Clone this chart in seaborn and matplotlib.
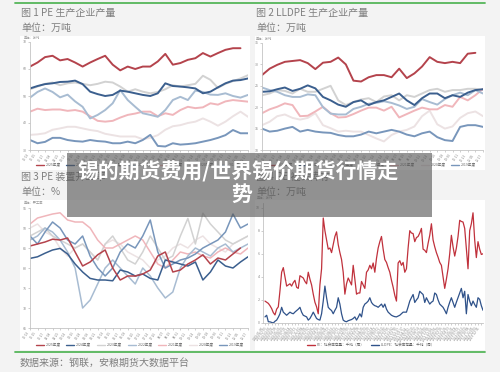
import numpy as np
import pandas as pd
import matplotlib
matplotlib.use("Agg")
import matplotlib.pyplot as plt
import seaborn as sns
from matplotlib.patches import Rectangle
from matplotlib.lines import Line2D

sns.set_theme(style="white")
plt.rcParams['font.family'] = ['Noto Sans CJK SC', 'DejaVu Sans']

# ---------------- data ----------------
YEARS = ["2025年度", "2024年度", "2023年度", "2022年度", "2021年度", "2020年度", "2019年度"]

# Fig 1: PE production (万吨)
p1_2025 = [60.9,62.4,64.4,64.9,63.2,63.7,62.4,60.9,62.4,63.7,64.9,61.6,59.5,60.9,60.0,60.9,60.9,62.8,65.6,61.6,62.2,63.4,64.0,65.9,64.6,65.9,67.1,67.7,67.7]
p1_2024 = [52.8,53.7,54.4,54.7,55.2,55.3,55.7,54.4,51.6,50.7,50.0,50.4,52.0,51.6,51.0,50.4,50.0,51.0,54.7,53.7,53.5,53.2,52.8,51.0,51.6,53.2,54.7,55.7,55.9,56.5]
p1_2023 = [52.5,53.5,54.5,55.0,54.0,54.7,55.0,54.5,54.0,54.5,55.3,55.0,53.5,51.6,52.5,51.6,51.0,51.5,52.5,54.0,53.5,54.0,54.5,57.5,56.0,53.0,54.5,55.5,56.5,57.7]
p1_2022 = [49.4,51.5,52.8,51.5,49.5,50.5,48.0,46.0,41.7,43.0,44.8,47.3,52.2,48.5,46.0,43.6,43.0,42.3,44.8,48.5,49.7,48.5,52.0,51.5,50.5,50.4,51.0,50.0,49.4,50.4]
p1_2021 = [44.2,45.3,44.8,45.0,45.0,44.5,44.8,44.2,42.5,40.8,40.5,40.8,42.0,43.0,43.5,44.2,44.2,42.5,43.6,43.0,44.8,46.0,45.5,45.8,47.3,46.8,48.0,48.5,48.2,47.9]
p1_2020 = [35.6,35.8,36.2,37.5,38.0,38.6,38.6,38.0,37.4,37.0,36.0,35.5,35.0,35.0,35.0,34.0,34.5,35.5,37.5,38.8,39.2,40.0,40.5,41.7,40.5,39.0,40.5,42.5,44.2,42.3]
p1_2019 = [33.7,32.5,33.0,34.5,34.5,33.7,33.3,33.1,33.7,33.3,33.1,32.5,32.5,33.1,32.5,33.7,35.6,31.5,31.3,32.5,32.0,32.2,32.5,33.1,33.7,34.5,35.5,37.4,36.2,36.2]

# Fig 2: LLDPE production (万吨)
p2_2025 = [27.5,29.0,29.9,30.6,30.8,31.0,30.3,28.9,30.4,30.6,31.6,30.0,26.2,26.0,27.0,27.5,27.5,27.0,29.0,26.8,27.9,29.5,31.7,30.6,30.3,30.6,30.3,32.5,32.7]
p2_2024 = [23.6,23.7,24.2,24.6,23.8,24.3,25.1,24.4,22.4,21.6,20.6,20.1,21.2,21.6,20.5,21.2,21.6,22.4,23.2,21.6,20.5,22.1,23.2,23.2,22.1,22.8,22.4,23.4,24.0,24.2]
p2_2023 = [22.8,23.2,24.0,23.8,23.2,24.3,23.6,23.6,24.3,25.0,21.6,20.5,21.2,21.8,22.1,21.2,22.5,22.8,21.6,22.8,22.4,23.2,24.0,24.3,23.6,24.0,24.0,24.3,24.3,24.0]
p2_2022 = [24.6,24.0,23.6,22.8,22.4,22.4,23.0,22.8,20.0,18.5,18.3,18.3,19.6,20.1,20.8,21.0,21.4,21.0,20.4,19.6,20.1,21.9,21.2,20.6,21.9,22.8,23.4,22.8,24.0,23.2]
p2_2021 = [18.6,19.5,20.1,20.9,20.5,17.9,18.0,19.0,20.1,18.6,17.6,17.7,18.4,19.2,19.9,19.9,19.2,20.1,17.6,18.4,19.2,19.9,19.5,19.5,20.5,20.1,22.4,21.6,22.8,24.3]
p2_2020 = [15.8,16.6,17.9,18.3,17.5,17.1,17.5,18.6,15.8,15.1,14.3,14.5,14.3,14.3,13.5,12.7,12.0,13.5,14.3,14.7,15.5,17.9,19.2,16.0,15.0,15.5,17.5,18.6,19.0,17.9]
p2_2019 = [15.0,14.3,14.5,15.0,15.4,14.3,14.7,14.3,14.1,14.0,13.5,13.2,13.2,13.6,14.3,13.9,14.3,14.7,14.3,13.6,13.2,13.9,14.3,13.0,12.3,12.1,15.4,15.8,15.8,15.4]

# Fig 3: PE operating rate (%)
p3_2025 = [85.5,86.0,86.5,87.2,87.0,87.5,84.0,80.5,81.5,83.3,84.5,80.0,77.0,78.0,78.0,78.5,79.5,83.0,84.0,79.0,79.5,81.0,82.0,83.3,81.0,82.5,82.0,83.5,85.0]
p3_2024 = [82.4,82.8,83.7,84.5,84.9,83.5,81.0,79.0,77.4,77.0,77.0,76.8,79.5,79.0,78.0,78.5,77.4,77.0,82.0,81.5,81.0,80.5,81.5,77.0,79.0,82.0,80.5,80.0,81.5,82.8]
p3_2023 = [88.0,89.0,90.0,88.0,87.0,86.0,85.0,86.0,84.0,82.0,86.0,88.0,85.0,82.0,81.0,84.0,88.0,85.0,82.0,83.0,88.0,92.4,86.0,93.7,91.0,89.0,87.0,86.0,87.0,88.0]
p3_2022 = [87.0,88.0,90.0,89.0,87.0,84.0,80.0,70.0,72.0,76.0,80.0,82.0,80.0,78.0,76.0,80.0,78.0,75.0,72.5,74.0,80.0,83.0,85.0,84.0,83.0,85.0,86.0,84.0,85.0,86.0]
p3_2021 = [91.0,92.5,93.0,93.5,93.8,92.0,91.5,91.5,90.0,87.0,85.0,85.0,86.0,87.0,88.0,87.0,84.0,81.0,80.0,82.0,84.0,83.5,84.0,83.0,82.5,84.0,85.0,84.0,83.5,85.0]
p3_2020 = [90.0,91.0,89.0,88.0,85.0,83.0,85.0,86.0,84.0,82.0,86.0,87.0,86.0,84.0,83.0,82.0,80.0,82.0,83.0,85.0,86.0,85.0,87.0,88.0,86.0,85.0,84.0,86.0,87.0,88.0]
p3_2019 = [88.0,86.0,89.0,91.5,90.0,87.0,86.0,88.0,83.0,80.0,78.0,80.0,84.0,86.0,85.0,88.0,92.0,84.0,80.0,81.0,82.0,82.5,83.5,85.0,86.0,87.0,89.0,93.5,90.0,91.0]

# Fig 4: social inventory (万吨)
p4_pe = [1.9,1.8,1.7,1.5,1.25,0.9,0.7,1.2,1.4,2.8,4.4,4.8,4.0,3.2,3.3,3.4,3.2,3.5,3.7,3.1,
         3.0,4.1,4.0,3.9,3.6,3.4,4.4,3.8,3.3,2.5,1.8,1.4,0.8,3.3,4.7,9.1,8.0,7.2,6.4,6.5,
         6.1,6.8,7.5,7.9,6.8,6.1,5.5,4.4,2.5,3.4,3.9,3.6,3.3,5.0,3.8,2.5,2.6,2.6,3.6,3.3,
         3.0,4.4,4.6,5.0,4.7,5.2,4.4,5.6,6.5,7.05,7.5,6.4,5.5,5.25,4.8,4.4,3.7,3.1,2.4,1.9,
         5.2,5.4,5.0,5.25,4.4,4.7,6.5,8.0,7.8,7.75,7.05,7.4,7.5,7.8,8.2,6.4,6.3,6.1,6.9,7.6,
         8.6,7.2,6.6,6.1,5.7,5.25,5.0,4.0,3.0,3.8,4.7,6.0,7.6,6.6,5.8,6.5,7.5,8.9,8.8,8.75,
         8.2,6.4,4.7,8.0,8.6,9.55,7.2,5.67,7.05,6.4,5.94,6.0]
p4_lldpe = [0.53,0.67,0.11,0.1,0.05,0.0,0.15,0.25,0.5,0.8,1.36,0.94,0.8,0.67,0.8,0.94,0.85,0.8,0.95,1.08,
            1.2,1.36,0.94,0.67,0.6,0.53,0.25,0.39,0.65,0.94,0.67,0.39,0.3,0.25,0.8,1.9,3.2,2.19,1.36,1.2,
            1.08,0.8,1.1,1.36,2.19,1.64,0.8,0.25,0.15,0.11,0.2,0.25,0.3,0.39,0.53,0.25,0.5,0.8,0.53,1.36,
            1.64,1.75,1.9,2.19,1.78,1.6,1.5,1.45,1.36,1.5,1.64,1.36,1.64,1.2,0.94,0.8,0.67,0.6,0.55,0.53,
            0.6,0.67,0.8,0.94,0.94,0.94,1.4,1.9,2.2,2.47,1.78,2.0,2.19,2.75,2.6,2.47,1.78,2.19,1.9,1.64,
            1.8,1.9,2.6,2.47,2.0,1.64,1.5,1.36,1.1,0.8,1.36,1.8,2.19,1.78,1.36,1.8,2.19,2.6,3.0,2.19,
            2.75,0.8,2.47,1.9,1.5,1.9,1.6,1.36,2.19,2.05,1.5,1.1]
P4_NAMES = ["PE：社会库存量：千吨（周）", "LLDPE：社会库存量：千吨（周）"]

P1_YT = [30, 40, 50, 60, 70]
P2_YT = [10, 15, 20, 25, 30, 35]
P3_YT = [65, 70, 75, 80, 85, 90, 95]
P4_YT = [0, 2, 4, 6, 8, 10]

WEEK_LABELS = list(pd.date_range("2025-01-03", periods=30, freq="12D").strftime("%m-%d"))
DATE_LABELS = list(pd.date_range("2019-01-04", periods=66, freq="4W").strftime("%Y-%m-%d"))

COLORS = {"2025年度": "#b4434c", "2024年度": "#3b5f8e", "2023年度": "#d2d2d2",
          "2022年度": "#a8bcd2", "2021年度": "#f0b6bb", "2020年度": "#ece2e3",
          "2019年度": "#7896bb"}
DRAW_ORDER = ["2020年度", "2023年度", "2021年度", "2022年度", "2019年度", "2024年度", "2025年度"]

W, H = 500, 372
fig = plt.figure(figsize=(5, 3.72), dpi=100, facecolor="#f3f3f3")


def rect(x0, y0, x1, y1):
    return [x0 / W, 1 - y1 / H, (x1 - x0) / W, (y1 - y0) / H]


def fig_rect(x0, y0, x1, y1, **kw):
    r = rect(x0, y0, x1, y1)
    fig.add_artist(Rectangle((r[0], r[1]), r[2], r[3], transform=fig.transFigure, **kw))


def fig_hline(x0, x1, y, **kw):
    fig.add_artist(Line2D([x0 / W, x1 / W], [1 - y / H] * 2, transform=fig.transFigure, **kw))


# white panels
for box in [(20, 36, 250, 170), (255, 36, 485, 170), (20, 200, 250, 350), (255, 200, 485, 350)]:
    fig_rect(*box, facecolor="white", edgecolor="none", zorder=-5)
fig_hline(15, 485, 3, color="#55b55a", lw=1.3, zorder=-4)
fig_hline(15, 485, 352, color="#55b55a", lw=1.3, zorder=-4)


def long_df(series):
    rows = []
    for name, vals in series.items():
        for i, v in enumerate(vals):
            rows.append((name, i, v))
    return pd.DataFrame(rows, columns=["year", "idx", "val"])


def style(ax, yticks, ylim, xlim, xpos, xlabels, unit):
    ax.set_facecolor("none")
    for s in ["top", "right"]:
        ax.spines[s].set_visible(False)
    for s in ["left", "bottom"]:
        ax.spines[s].set_color("#c4c4c4")
        ax.spines[s].set_linewidth(0.6)
    ax.set_ylim(*ylim)
    ax.set_xlim(*xlim)
    ax.set_yticks(yticks)
    ax.set_yticklabels([str(t) for t in yticks], fontsize=2.6, color="#888888")
    ax.set_xticks(xpos)
    ax.set_xticklabels(xlabels, rotation=55, ha="right", fontsize=2.3, color="#888888")
    ax.tick_params(axis="both", length=1.2, width=0.4, pad=1, colors="#aaaaaa",
                   labelcolor="#888888", left=True, bottom=True)
    ax.set_xlabel("")
    ax.set_ylabel("")
    ax.text(-0.03, 1.03, unit, transform=ax.transAxes, fontsize=2.3, color="#999999")


def year_panel(box, series, yticks, ylim, lw, unit):
    ax = fig.add_axes(rect(*box))
    df = long_df(series)
    sns.lineplot(data=df, x="idx", y="val", hue="year", hue_order=DRAW_ORDER,
                 palette=COLORS, linewidth=lw, legend=False, ax=ax)
    style(ax, yticks, ylim, (0, 29), list(range(30)), WEEK_LABELS, unit)
    return ax


def year_legend(cx, cy):
    handles = [Line2D([0], [0], color=COLORS[y], lw=1.0) for y in YEARS]
    fig.legend(handles, YEARS, loc="center", bbox_to_anchor=(cx / W, 1 - cy / H),
               ncol=7, frameon=False, fontsize=2.6, handlelength=2.2, columnspacing=1.6,
               handletextpad=0.5, labelcolor="#666666")


s1 = dict(zip(YEARS, [p1_2025, p1_2024, p1_2023, p1_2022, p1_2021, p1_2020, p1_2019]))
s2 = dict(zip(YEARS, [p2_2025, p2_2024, p2_2023, p2_2022, p2_2021, p2_2020, p2_2019]))
s3 = dict(zip(YEARS, [p3_2025, p3_2024, p3_2023, p3_2022, p3_2021, p3_2020, p3_2019]))

year_panel((30, 42, 248, 150), s1, P1_YT, (30, 70), 1.4, "单位：万吨")
year_panel((262, 43, 483, 150), s2, P2_YT, (10, 35), 1.4, "单位：万吨")
year_panel((30, 208, 248, 328), s3, P3_YT, (65, 95), 1.1, "单位：开工率")

year_legend(140, 165)
year_legend(372, 165)
year_legend(140, 345)

# panel 4
ax4 = fig.add_axes(rect(263, 203, 483, 323))
df4 = pd.DataFrame({"idx": list(range(len(p4_pe))) + list(range(len(p4_lldpe))),
                    "val": p4_pe + p4_lldpe,
                    "name": [P4_NAMES[0]] * len(p4_pe) + [P4_NAMES[1]] * len(p4_lldpe)})
sns.lineplot(data=df4, x="idx", y="val", hue="name", hue_order=P4_NAMES,
             palette={P4_NAMES[0]: "#c0313c", P4_NAMES[1]: "#2f528a"},
             linewidth=0.9, legend=False, ax=ax4)
style(ax4, P4_YT, (0, 10.4), (-1.2, 131), list(range(0, 132, 2)), DATE_LABELS, "单位：万吨")
h4 = [Line2D([0], [0], color=c, lw=1.0) for c in ["#c0313c", "#2f528a"]]
fig.legend(h4, P4_NAMES, loc="center", bbox_to_anchor=(371 / W, 1 - 345 / H), ncol=2,
           frameon=False, fontsize=2.6, handlelength=2.2, columnspacing=1.6,
           handletextpad=0.5, labelcolor="#666666")

# titles
tkw = dict(fontsize=7.2, color="#7f7f7f", va="center", ha="left")
fig.text(21 / W, 1 - 13 / H, "图 1 PE 生产企业产量", **tkw)
fig.text(21 / W, 1 - 28 / H, "单位：万吨", **tkw)
fig.text(256 / W, 1 - 13 / H, "图 2 LLDPE 生产企业产量", **tkw)
fig.text(256 / W, 1 - 28 / H, "单位：万吨", **tkw)
fig.text(21 / W, 1 - 177 / H, "图 3 PE 装置开工率", **tkw)
fig.text(21 / W, 1 - 192 / H, "单位：%", **tkw)
fig.text(256 / W, 1 - 177 / H, "图 4 PE 社会库存", **tkw)
fig.text(256 / W, 1 - 192 / H, "单位：万吨", **tkw)
fig.text(20 / W, 1 - 363 / H, "数据来源：钢联，安粮期货大数据平台", **tkw)

# overlay banner
fig_rect(67, 153, 432, 217, facecolor="#555555", edgecolor="none", alpha=0.62, zorder=20)
bkw = dict(fontsize=15, color="white", fontweight="bold", ha="center", va="center", zorder=21)
fig.text(238 / W, 1 - 172 / H, "锡的期货费用/世界锡价期货行情走", **bkw)
fig.text(242 / W, 1 - 194 / H, "势", **bkw)

fig.savefig("out.png", dpi=100, facecolor=fig.get_facecolor())
